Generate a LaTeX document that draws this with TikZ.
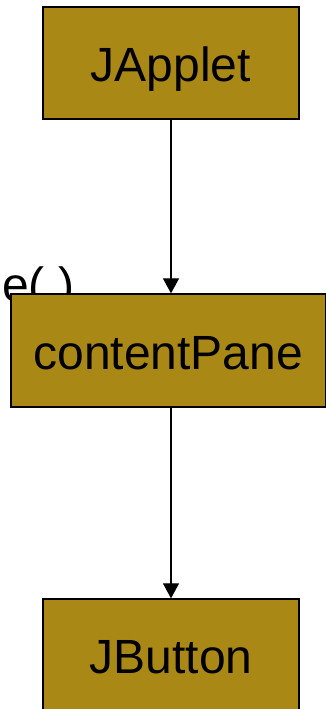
\documentclass[tikz,border=0pt]{standalone}
\usepackage{fontspec}
\setmainfont{Liberation Sans}
\usetikzlibrary{arrows.meta}
\definecolor{boxfill}{RGB}{170,136,22}
\tikzset{
  classbox/.style={draw=black, fill=boxfill, line width=1.3pt, rectangle, inner sep=0pt,
    minimum height=112pt, text height=37pt, text depth=0pt,
    font=\fontsize{48}{48}\selectfont},
  link/.style={draw=black, line width=1.2pt, -{Triangle[length=15pt,width=16pt]}},
  stray/.style={inner sep=0pt, font=\fontsize{48}{48}\selectfont}
}
\begin{document}
\begin{tikzpicture}[x=1pt,y=-1pt]
\useasboundingbox (0,0) rectangle (326,709);
\node[stray, anchor=base west] (cut) at (2,301) {e( )};
\node[classbox, minimum width=256pt] (japplet) at (171,63) {JApplet};
\node[classbox, minimum width=314.5pt, minimum height=113pt] (pane) at (168.25,350.5) {contentPane};
\node[classbox, minimum width=256pt] (jbutton) at (171,655) {JButton};
\draw[link] (japplet.south) -- (pane.north -| japplet.south);
\draw[link] (pane.south -| japplet.south) -- (jbutton.north);
\end{tikzpicture}
\end{document}
